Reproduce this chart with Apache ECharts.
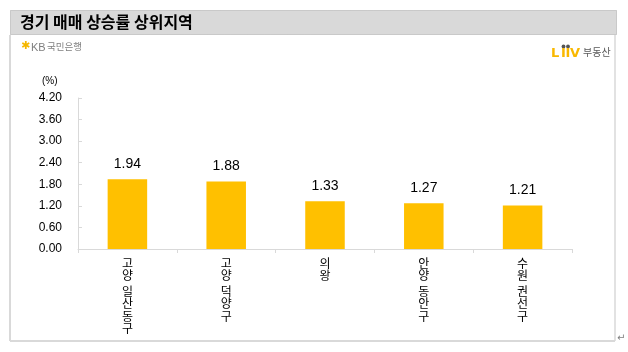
<!DOCTYPE html>
<html>
<head>
<meta charset="utf-8">
<script src="https://cdn.jsdelivr.net/npm/echarts@6/dist/echarts.min.js"></script>
<style>
  html, body { margin: 0; padding: 0; background: #fff; }
  #chart { width: 628px; height: 352px; }
</style>
</head>
<body>
<div id="chart"></div>
<script>
const titleText = '경기 매매 상승률 상위지역';
const categories = ['고양 일산동구', '고양 덕양구', '의왕', '안양 동안구', '수원 권선구'];
const values = [1.94, 1.88, 1.33, 1.27, 1.21];
const yMin = 0;
const yMax = 4.2;
const yStep = 0.6;

const KR = '"Noto Sans CJK KR", "Malgun Gothic", sans-serif';
const NUM = '"Liberation Sans", Arial, sans-serif';

// stack hangul upright, one char per line; spaces become a short gap
const vertical = (s) => s.split('').map(ch => ch === ' ' ? '{s| }' : '{c|' + ch + '}').join('\n');

const chart = echarts.init(document.getElementById('chart'));

const liivFont = 'bold 13px "DejaVu Sans"';

const option = {
  animation: false,
  backgroundColor: '#fff',
  grid: { left: 78, right: 56, top: 98, bottom: 103 },
  xAxis: {
    type: 'category',
    data: categories,
    axisLine: { lineStyle: { color: '#d9d9d9', width: 1 } },
    axisTick: { show: true, length: 4, lineStyle: { color: '#d9d9d9' } },
    axisLabel: {
      interval: 0,
      margin: 8,
      formatter: vertical,
      rich: {
        c: { fontFamily: KR, fontSize: 12, lineHeight: 12.5, color: '#000' },
        s: { fontSize: 3, lineHeight: 3 }
      }
    }
  },
  yAxis: {
    type: 'value',
    min: yMin,
    max: yMax,
    interval: yStep,
    splitLine: { show: false },
    axisLine: { show: true, lineStyle: { color: '#d9d9d9', width: 1 } },
    axisTick: { show: true, inside: true, length: 4, lineStyle: { color: '#d9d9d9' } },
    axisLabel: {
      margin: 16,
      fontFamily: NUM,
      fontSize: 12,
      color: '#000',
      formatter: (v) => v.toFixed(2)
    }
  },
  series: [
    {
      type: 'bar',
      data: values,
      barWidth: '40%',
      itemStyle: { color: '#FFC000' },
      label: {
        show: true,
        position: 'top',
        distance: 8,
        fontFamily: NUM,
        fontSize: 14,
        color: '#000',
        formatter: (p) => p.value.toFixed(2)
      }
    }
  ],
  graphic: [
    // outer panel
    { type: 'line', shape: { x1: 10, y1: 35, x2: 10, y2: 341 }, style: { stroke: '#d9d9d9', lineWidth: 2 } },
    { type: 'line', shape: { x1: 615, y1: 35, x2: 615, y2: 341 }, style: { stroke: '#d9d9d9', lineWidth: 1.5 } },
    { type: 'line', shape: { x1: 10, y1: 341, x2: 615, y2: 341 }, style: { stroke: '#d9d9d9', lineWidth: 2 } },
    // title bar
    {
      type: 'rect',
      shape: { x: 10.5, y: 10.5, width: 606, height: 24 },
      style: { fill: '#d9d9d9', stroke: '#a6a6a6', lineWidth: 1, lineDash: [1, 1] }
    },
    {
      type: 'text',
      left: 20, top: 14,
      style: { text: titleText, font: 'bold 16px ' + KR, fill: '#000' }
    },
    // KB logo
    {
      type: 'text',
      left: 21, top: 41,
      style: { text: '✱', font: 'bold 11px "DejaVu Sans"', fill: '#f5b700' }
    },
    {
      type: 'text',
      left: 31, top: 42,
      style: { text: 'KB', font: '11px ' + NUM, fill: '#7f7f7f' }
    },
    {
      type: 'text',
      left: 47, top: 42,
      style: { text: '국민은행', font: '9.5px ' + KR, fill: '#7f7f7f' }
    },
    // Liiv logo
    { type: 'circle', shape: { cx: 563.5, cy: 46.5, r: 1.9 }, style: { fill: '#555' } },
    { type: 'circle', shape: { cx: 568, cy: 46.5, r: 1.9 }, style: { fill: '#555' } },
    { type: 'text', left: 551, top: 47, style: { text: 'L', font: liivFont, fill: '#f9b800' } },
    { type: 'text', left: 561, top: 47, style: { text: 'I', font: liivFont, fill: '#f9b800' } },
    { type: 'text', left: 565.5, top: 47, style: { text: 'I', font: liivFont, fill: '#f9b800' } },
    { type: 'text', left: 570, top: 47, style: { text: 'V', font: liivFont, fill: '#f9b800' } },
    {
      type: 'text',
      left: 583, top: 47,
      style: { text: '부동산', font: '10px ' + KR, fill: '#595959' }
    },
    // unit
    {
      type: 'text',
      left: 42, top: 76,
      style: { text: '(%)', font: '10px ' + NUM, fill: '#000' }
    },
    // paragraph mark
    {
      type: 'text',
      left: 617, top: 333,
      style: { text: '↵', font: '10px "DejaVu Sans"', fill: '#7f7f7f' }
    }
  ]
};

chart.setOption(option);
</script>
</body>
</html>
